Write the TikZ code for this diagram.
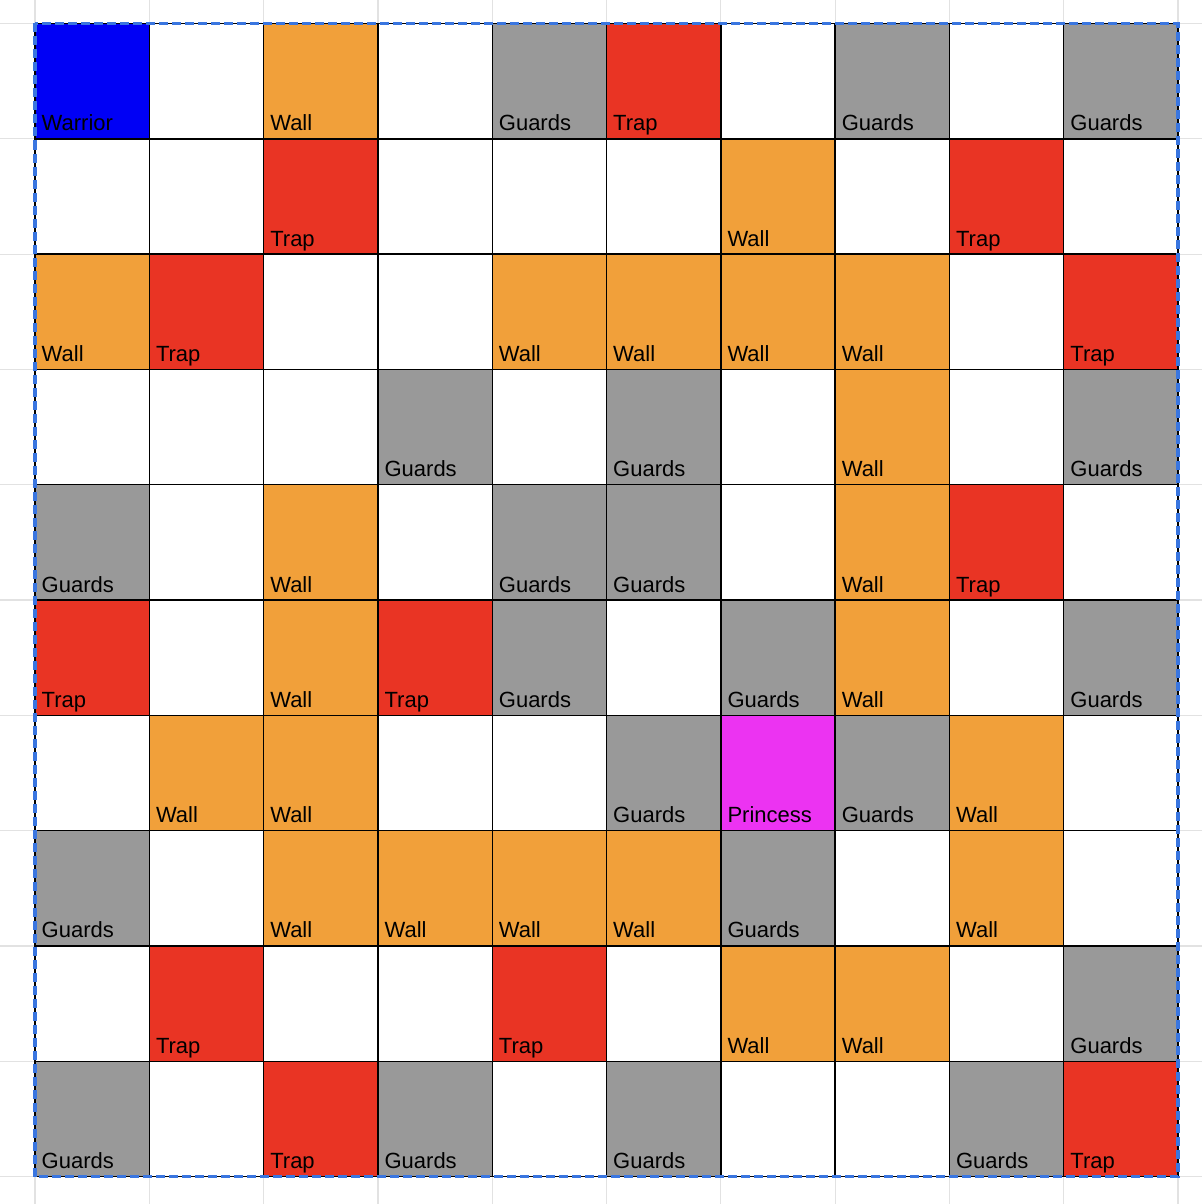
\documentclass[tikz,border=0pt]{standalone}
\usepackage{fontspec}
\setmainfont{Liberation Sans}
\definecolor{wallc}{HTML}{F1A03A}
\definecolor{trapc}{HTML}{E93424}
\definecolor{guardc}{HTML}{999999}
\definecolor{warc}{HTML}{0000F5}
\definecolor{princ}{HTML}{EC33F2}
\definecolor{gridc}{HTML}{E2E2E2}
\definecolor{selc}{HTML}{3A76E0}
\newcommand\labB{Warrior}
\newcommand\labO{Wall}
\newcommand\labR{Trap}
\newcommand\labG{Guards}
\newcommand\labP{Princess}
\tikzset{
  cellbox/.style={draw=black, line width=1.4pt, minimum width=114.3pt, minimum height=115.3pt, inner sep=0pt, outer sep=0pt, anchor=north west},
  tyE/.style={fill=white},
  tyB/.style={fill=warc},
  tyO/.style={fill=wallc},
  tyR/.style={fill=trapc},
  tyG/.style={fill=guardc},
  tyP/.style={fill=princ},
  celltext/.style={anchor=base west, inner sep=0pt, font=\fontsize{22}{26}\selectfont, text=black},
  gridline/.style={draw=gridc, line width=1.2pt}
}
\begin{document}
\begin{tikzpicture}[x=1pt,y=-1pt]
\useasboundingbox[fill=white] (0,0) rectangle (1202,1204);
\foreach \i in {0,...,10} {
  \draw[gridline] ({35+\i*114.3},0) -- ({35+\i*114.3},1204);
  \draw[gridline] (0,{23.5+\i*115.3}) -- (1202,{23.5+\i*115.3});
}
\foreach \r/\row in {
  0/{B,E,O,E,G,R,E,G,E,G},
  1/{E,E,R,E,E,E,O,E,R,E},
  2/{O,R,E,E,O,O,O,O,E,R},
  3/{E,E,E,G,E,G,E,O,E,G},
  4/{G,E,O,E,G,G,E,O,R,E},
  5/{R,E,O,R,G,E,G,O,E,G},
  6/{E,O,O,E,E,G,P,G,O,E},
  7/{G,E,O,O,O,O,G,E,O,E},
  8/{E,R,E,E,R,E,O,O,E,G},
  9/{G,E,R,G,E,G,E,E,G,R}} {
  \foreach \k [count=\c from 0] in \row {
    \node[cellbox, ty\k] (c\r-\c) at ({35+\c*114.3},{23.5+\r*115.3}) {};
    \if\k E\else
      \node[celltext] (t\r-\c) at ([shift={(6.5,-8)}]c\r-\c.south west) {\csname lab\k\endcsname};
    \fi
  }
}
\draw[black, line width=1.2pt] (c0-0.north west) rectangle (c9-9.south east);
\draw[selc, line width=3.4pt, dash pattern=on 9pt off 4pt] (c0-0.north west) rectangle (c9-9.south east);
\end{tikzpicture}
\end{document}
